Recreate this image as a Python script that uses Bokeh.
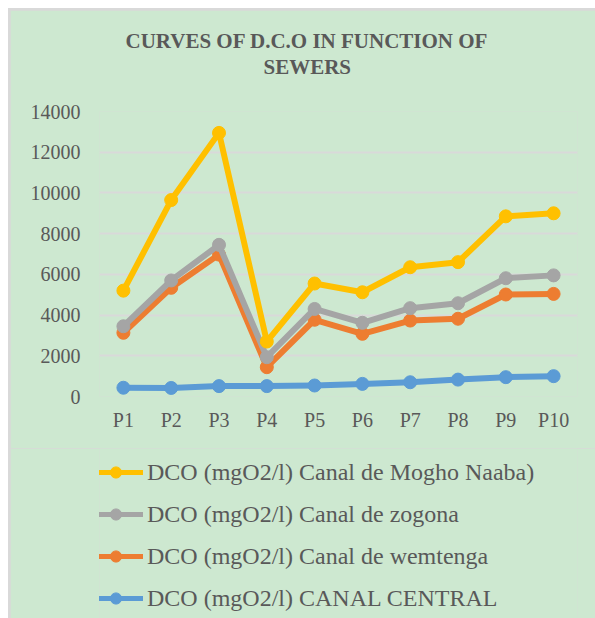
from bokeh.plotting import figure
from bokeh.layouts import column
from bokeh.models import Range1d, FactorRange, Legend, LegendItem, Title, FixedTicker
from bokeh.embed import file_html
from bokeh.resources import INLINE

# ---- data ----
points = ["P1", "P2", "P3", "P4", "P5", "P6", "P7", "P8", "P9", "P10"]
mogho_naaba = [5200, 9650, 12950, 2700, 5550, 5120, 6350, 6600, 8850, 9000]
zogona = [3450, 5700, 7450, 1930, 4300, 3620, 4340, 4580, 5810, 5950]
wemtenga = [3130, 5340, 6970, 1440, 3770, 3080, 3730, 3820, 5010, 5040]
canal_central = [430, 420, 510, 510, 540, 620, 700, 830, 950, 1000]
y_ticks = [0, 2000, 4000, 6000, 8000, 10000, 12000, 14000]

series_labels = [
    "DCO (mgO2/l) Canal de Mogho Naaba)",
    "DCO (mgO2/l) Canal de zogona",
    "DCO (mgO2/l) Canal de wemtenga",
    "DCO (mgO2/l) CANAL CENTRAL",
]
series_colors = ["#ffc000", "#a5a5a5", "#ed7d31", "#5b9bd5"]
title_lines = ["CURVES OF D.C.O IN FUNCTION OF", "SEWERS"]

BG = "#cde8d0"
TXT = "#595959"
FONT = "Liberation Serif"

series_values = [mogho_naaba, zogona, wemtenga, canal_central]

# ---------------- main chart ----------------
p = figure(
    width=585, height=438,
    margin=(2, 0, 0, 2),
    x_range=FactorRange(*points),
    y_range=Range1d(0, 14000),
    output_backend="svg", toolbar_location=None,
    min_border_left=89, min_border_right=18,
    min_border_top=101, min_border_bottom=52,
)
p.title = None
p.background_fill_color = BG
p.border_fill_color = BG
p.outline_line_color = None

p.yaxis.ticker = FixedTicker(ticks=y_ticks)
for ax in (p.xaxis[0], p.yaxis[0]):
    ax.axis_line_color = None
    ax.major_tick_line_color = None
    ax.minor_tick_line_color = None
    ax.major_tick_out = 0
    ax.major_tick_in = 0
    ax.major_label_text_font = FONT
    ax.major_label_text_font_size = "20px"
    ax.major_label_text_color = TXT
p.yaxis.major_label_standoff = 19
p.xaxis.major_label_standoff = 12

p.xgrid.grid_line_color = None
p.ygrid.grid_line_color = "#d9d9d9"
p.ygrid.grid_line_width = 2

for idx in [3, 2, 1, 0]:  # draw central first, Mogho Naaba on top
    col = series_colors[idx]
    p.line(points, series_values[idx], line_color=col, line_width=6, line_join="round")
    p.scatter(points, series_values[idx], size=13, fill_color=col, line_color=col)

# title: spacer nearest the plot, then the two title lines
p.add_layout(Title(text=" ", text_font_size="10px", standoff=20,
                   text_font=FONT, text_color=BG), "above")
p.add_layout(Title(text=title_lines[1], align="left", offset=164, standoff=0,
                   text_font=FONT, text_font_size="21px", text_font_style="bold",
                   text_color=TXT), "above")
p.add_layout(Title(text=title_lines[0], align="left", offset=26, standoff=0,
                   text_font=FONT, text_font_size="21px", text_font_style="bold",
                   text_color=TXT), "above")

# ---------------- legend strip (its series lie outside its view) ----------------
lg = figure(
    width=585, height=170, margin=(0, 0, 0, 2),
    x_range=FactorRange(*points), y_range=Range1d(-2, -1),
    x_axis_location=None, y_axis_location=None,
    output_backend="svg", toolbar_location=None,
    min_border=0,
)
lg.title = None
lg.background_fill_color = BG
lg.border_fill_color = BG
lg.outline_line_color = None
lg.grid.visible = False

items = []
for lab, col, vals in zip(series_labels, series_colors, series_values):
    lr = lg.line(points, vals, line_color=col, line_width=5)
    sr = lg.scatter(points, vals, size=13, fill_color=col, line_color=col)
    items.append(LegendItem(label=lab, renderers=[lr, sr]))

legend = Legend(
    items=items,
    location=(-11, 6),
    orientation="vertical",
    glyph_width=55, glyph_height=28, label_height=28,
    label_standoff=4, spacing=14, padding=0, margin=0,
    border_line_color=None, background_fill_alpha=0,
    label_text_font=FONT, label_text_font_size="24px", label_text_color=TXT,
)
lg.add_layout(legend, "center")

page = column(p, lg, margin=(8, 0, 0, 8), spacing=0,
              styles={"background-color": "#d9d9d9"})

open("out.html", "w").write(file_html(page, INLINE))
